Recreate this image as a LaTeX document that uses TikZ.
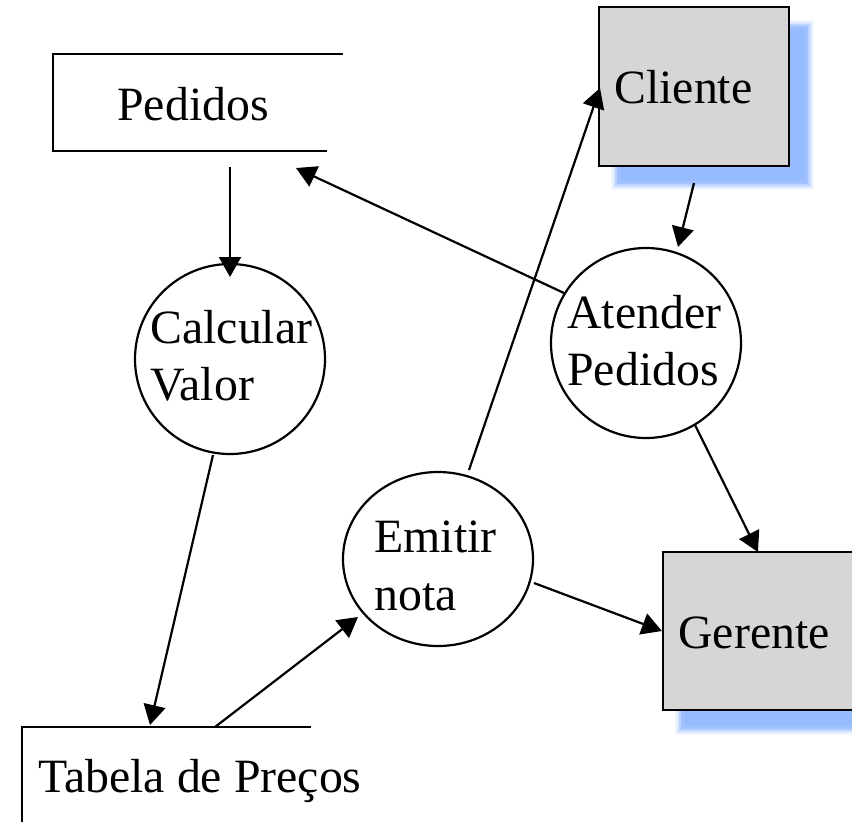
\documentclass[tikz,border=0pt]{standalone}
\usepackage{fontspec}
\setmainfont{Liberation Serif}
\usetikzlibrary{arrows.meta,shapes.geometric}
\definecolor{boxgray}{RGB}{214,214,214}
\definecolor{shadowblue}{RGB}{150,187,255}
\begin{document}
\begin{tikzpicture}[x=0.5pt,y=-0.5pt,
  every node/.style={font=\fontsize{23.9}{28.7}\selectfont},
  line/.style={line width=1.1pt},
  flow/.style={line width=1.1pt,-{Triangle[length=10pt,width=11pt]}},
  proc/.style={circle,draw,line width=1.1pt,minimum size=95pt,inner sep=0pt},
  ext/.style={rectangle,draw,line width=1.1pt,fill=boxgray,inner sep=0pt},
  lbl/.style={anchor=base west,inner sep=0pt}]
\clip (0,0) rectangle (852,821);
\fill[white] (0,0) rectangle (852,821);

% blurred shadows
\foreach \e/\o in {7/0.12,5/0.25,3/0.45,1/0.7} {
  \fill[shadowblue,opacity=\o] (618-\e,27-\e) rectangle (807+\e,183+\e);
  \fill[shadowblue,opacity=\o] (682-\e,570-\e) rectangle (880+\e,728+\e);
}
\fill[shadowblue] (620,29) rectangle (805,181);
\fill[shadowblue] (684,572) rectangle (878,726);

% external entities
\node[ext,minimum width=95pt,minimum height=79.5pt] (cliente) at (694,86.5) {};
\node[lbl] (clienteT) at (614,103) {Cliente};
\node[ext,minimum width=100pt,minimum height=79pt] (gerente) at (763,631) {};
\node[lbl] (gerenteT) at (678,648) {Gerente};

% processes
\node[proc] (calc) at (230,359) {};
\node[lbl] (calcT1) at (150,343) {Calcular};
\node[lbl] (calcT2) at (150,400) {Valor};
\node[proc] (atender) at (646,343) {};
\node[lbl] (atT1) at (567,328) {Atender};
\node[lbl] (atT2) at (567,385) {Pedidos};
\node[ellipse,draw,line width=1.1pt,minimum width=95pt,minimum height=87pt,inner sep=0pt] (emitir) at (438,559) {};
\node[lbl] (emT1) at (374,552) {Emitir};
\node[lbl] (emT2) at (374,610) {nota};

% data stores
\draw[line] (343,54) -- (53,54) -- (53,151) -- (327,151);
\node[lbl] (pedidosT) at (117,120) {Pedidos};
\draw[line] (311,727) -- (22,727) -- (22,830);
\node[lbl] (tabelaT) at (38,792) {Tabela de Preços};

% connector ends
\coordinate (pedOut) at (230,167);
\coordinate (calcIn) at (230,277);
\coordinate (atOut1) at (564,293);
\coordinate (pedIn) at (296,168);
\coordinate (emOut1) at (469,470);
\coordinate (clIn) at (600,88);
\coordinate (clOut) at (694,183);
\coordinate (atIn) at (678,247);
\coordinate (atOut2) at (695,425);
\coordinate (geIn1) at (758,552);
\coordinate (emOut2) at (534,583);
\coordinate (calcOut) at (213,455);
\coordinate (tabIn) at (150,725);
\coordinate (tabOut) at (215,727);
\coordinate (emIn) at (358,617);

% flows
\draw[flow] (pedOut) -- (calcIn);
\draw[flow] (atOut1) -- (pedIn);
\draw[flow] (emOut1) -- (clIn);
\draw[flow] (clOut) -- (atIn);
\draw[flow] (atOut2) -- (geIn1);
\draw[flow] (emOut2) -- (gerente.west);
\draw[flow] (calcOut) -- (tabIn);
\draw[flow] (tabOut) -- (emIn);
\end{tikzpicture}
\end{document}
